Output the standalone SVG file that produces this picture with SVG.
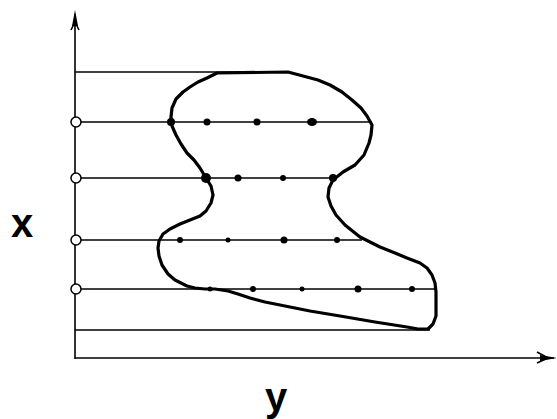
<svg xmlns="http://www.w3.org/2000/svg" width="557" height="419" viewBox="0 0 557 419">
<style>
.ln{stroke:#000;stroke-width:1.6;fill:none}
.shape{stroke:#000;stroke-width:3.2;fill:none;stroke-linejoin:round;stroke-linecap:round}
.dot{fill:#000}
.oc{fill:#fff;stroke:#000;stroke-width:1.5}
.lbl{font-family:"Liberation Sans",Arial,sans-serif;font-weight:bold;font-size:40px;fill:#000}
</style>
<rect width="557" height="419" fill="#fff"/>
<g id="axes">
<line class="ln" x1="75" y1="14" x2="75" y2="359"/>
<line class="ln" x1="75" y1="358" x2="554" y2="358"/>
<path d="M75,10 L78,26 L72,26 Z" fill="#000"/>
<path class="ln" d="M71,30 L75,22 L79,30" stroke-width="1.3"/>
<path d="M557,358 L540,355 L540,361 Z" fill="#000"/>
<path class="ln" d="M537,352 L548,358 L537,363" stroke-width="1.3"/>
</g>
<g id="lines">
<line class="ln" x1="75" y1="72" x2="288" y2="72"/>
<line class="ln" x1="75" y1="122" x2="372" y2="122"/>
<line class="ln" x1="75" y1="178" x2="333" y2="178"/>
<line class="ln" x1="75" y1="240" x2="362" y2="240"/>
<line class="ln" x1="75" y1="289" x2="436" y2="289"/>
<line class="ln" x1="75" y1="330" x2="430" y2="330"/>
</g>
<g id="shape">
<path class="shape" d="M217,73 L288,72 L303,76 L318,80 L330,85 L342,92 L352,100 L361,108 L367,116 L372,125 L371,135 L369,143 L364,155 L355,165 L343,172 L333,180 L329,188 L328,197 L331,206 L336,215 L345,225 L360,237 L380,247 L395,253 L407,258 L420,263 L427,268 L432,275 L435,283 L436,292 L436,305 L436,316 L433,324 L428,329 L418,329 L407,327 L375,322 L340,316 L310,311 L290,307 L265,302 L250,298 L238,294 L228,291 L215,289 L205,289 L195,288 L187,286 L175,280 L168,274 L162,265 L159,256 L158,248 L159,241 L163,234 L170,229 L180,224 L190,220 L200,216 L206,211 L211,203 L213,195 L211,186 L206,178 L200,168 L194,160 L187,153 L181,144 L176,135 L172,126 L171,117 L172,108 L176,99 L183,92 L190,87 L198,82 L207,78 Z"/>
</g>
<g id="dots">
<circle class="dot" cx="171" cy="122" r="4"/>
<circle class="dot" cx="207" cy="122" r="3.5"/>
<circle class="dot" cx="257" cy="122" r="3.5"/>
<ellipse class="dot" cx="312" cy="122" rx="5" ry="4"/>
<circle class="dot" cx="206" cy="178" r="5"/>
<circle class="dot" cx="238" cy="178" r="3.5"/>
<circle class="dot" cx="283" cy="178" r="3"/>
<circle class="dot" cx="333" cy="178" r="4"/>
<circle class="dot" cx="180" cy="240" r="3"/>
<circle class="dot" cx="228" cy="240" r="2.5"/>
<circle class="dot" cx="284" cy="240" r="3.5"/>
<circle class="dot" cx="337" cy="240" r="3"/>
<circle class="dot" cx="210" cy="289" r="2.5"/>
<circle class="dot" cx="253" cy="289" r="3"/>
<circle class="dot" cx="302" cy="289" r="2.5"/>
<circle class="dot" cx="358" cy="289" r="3.5"/>
<circle class="dot" cx="412" cy="289" r="3"/>
</g>
<g id="open-circles">
<circle class="oc" cx="76" cy="122" r="5"/>
<circle class="oc" cx="76" cy="178" r="5"/>
<circle class="oc" cx="76" cy="240" r="5"/>
<circle class="oc" cx="76" cy="289" r="5"/>
</g>
<g id="labels">
<text class="lbl" x="11" y="237">x</text>
<text class="lbl" x="265" y="411">y</text>
</g>
</svg>
